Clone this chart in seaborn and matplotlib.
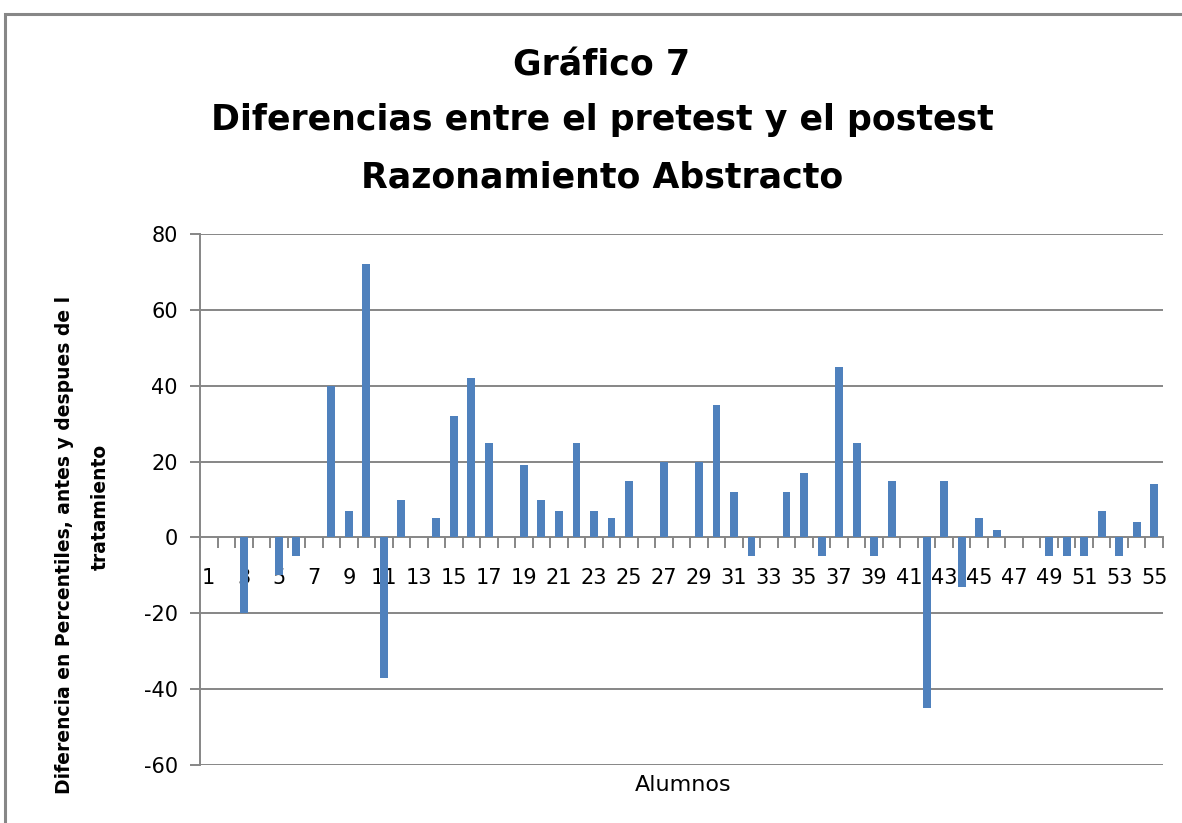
import matplotlib
matplotlib.use("Agg")
import matplotlib.pyplot as plt
import seaborn as sns
import pandas as pd
from matplotlib.patches import Rectangle
from matplotlib.ticker import FixedLocator

# data
alumnos = [str(i) for i in range(1, 56)]
diferencias = [0, 0, -20, 0, -10, -5, 0, 40, 7, 72,
               -37, 10, 0, 5, 32, 42, 25, 0, 19, 10,
               7, 25, 7, 5, 15, 0, 20, 0, 20, 35,
               12, -5, 0, 12, 17, -5, 45, 25, -5, 15,
               0, -45, 15, -13, 5, 2, 0, 0, -5, -5,
               -5, 7, -5, 4, 14]
ytick_vals = [-60, -40, -20, 0, 20, 40, 60, 80]
title_lines = ["Gráfico 7", "Diferencias entre el pretest y el postest", "Razonamiento Abstracto"]

df = pd.DataFrame({"alumno": alumnos, "dif": diferencias})

sns.set_theme(style="white")
plt.rcParams["font.family"] = ["DejaVu Sans"]
plt.rcParams["text.color"] = "black"

W, H = 1182, 823
fig = plt.figure(figsize=(W / 100, H / 100), dpi=100)
ax = fig.add_axes([200 / W, 1 - 765 / H, (1163 - 200) / W, (765 - 234) / H])

sns.barplot(data=df, x="alumno", y="dif", color="#4F81BD", width=0.45,
            saturation=1, linewidth=0, ax=ax, zorder=3)

ax.set_ylim(-60, 80)
ax.set_xlim(-0.5, len(alumnos) - 0.5)
ax.set_yticks(ytick_vals)
ax.set_yticklabels([str(v) for v in ytick_vals], fontsize=15)
for v in ytick_vals:
    if v != 0:
        ax.axhline(v, color="#868686", lw=1.4, zorder=0)

# category axis crossing at zero
ax.spines["bottom"].set_position(("data", 0))
ax.spines["bottom"].set_color("#868686")
ax.spines["bottom"].set_linewidth(1.4)
ax.spines["left"].set_color("#868686")
ax.spines["left"].set_linewidth(1.4)
ax.spines["top"].set_visible(False)
ax.spines["right"].set_visible(False)

ax.set_xticks(range(len(alumnos)))
ax.set_xticklabels([a if int(a) % 2 == 1 else "" for a in alumnos], fontsize=15)
ax.xaxis.set_minor_locator(FixedLocator([i - 0.5 for i in range(len(alumnos) + 1)]))
ax.tick_params(axis="x", which="major", length=0, pad=22, labelcolor="black")
ax.tick_params(axis="x", which="minor", length=8, width=1.4, color="#868686", bottom=True)
ax.tick_params(axis="y", length=7, width=1.4, color="#868686", left=True, pad=9,
               labelcolor="black")
ax.set_xlabel("")
ax.set_ylabel("")

# titles and labels
for txt, yy in zip(title_lines, [65, 120, 177]):
    fig.text(602 / W, 1 - yy / H, txt, ha="center", va="center",
             fontsize=25, fontweight="bold")

fig.text(683 / W, 1 - 785 / H, "Alumnos", ha="center", va="center", fontsize=16)
fig.text(65 / W, 1 - 545 / H, "Diferencia en Percentiles, antes y despues de l",
         rotation=90, ha="center", va="center", fontsize=13.5, fontweight="bold")
fig.text(100 / W, 1 - 507 / H, "tratamiento",
         rotation=90, ha="center", va="center", fontsize=13.5, fontweight="bold")

# chart area border (cut off on the right and bottom)
fig.patches.append(Rectangle((5 / W, -0.1), 1.2, 1 - 14 / H + 0.1,
                             transform=fig.transFigure, fill=False,
                             edgecolor="#878787", lw=2.2))

fig.savefig("out.png", dpi=100)
